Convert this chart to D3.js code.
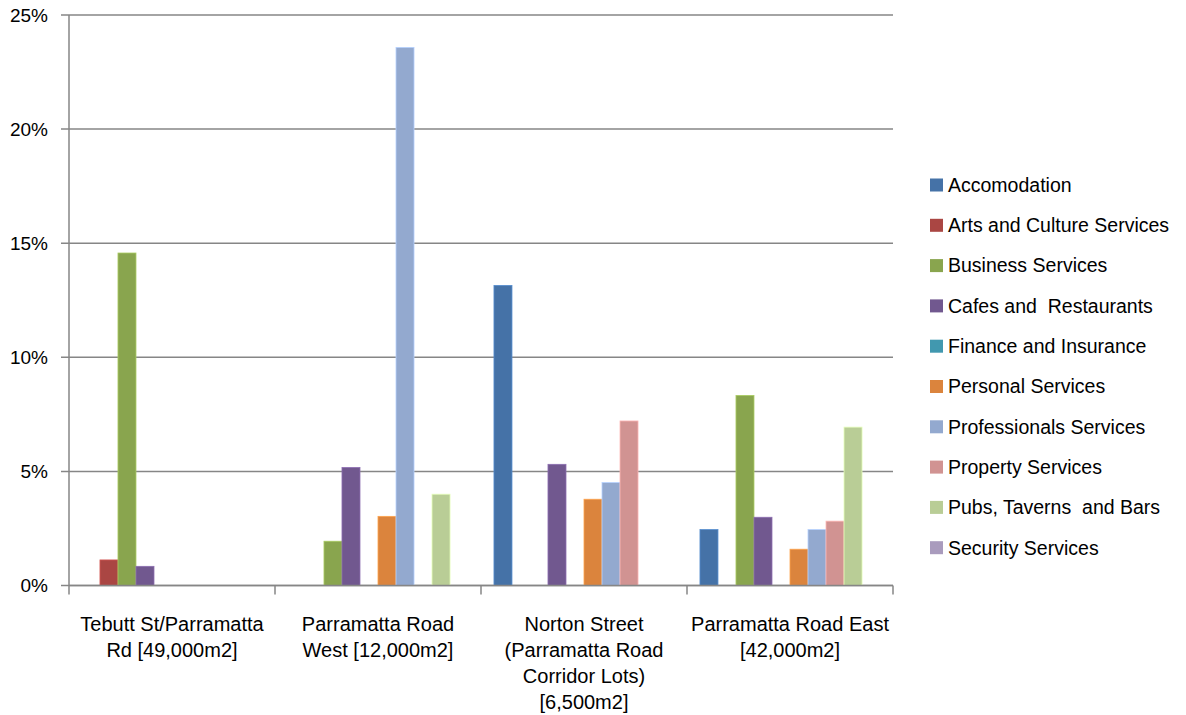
<!DOCTYPE html>
<html><head><meta charset="utf-8">
<script src="https://cdn.jsdelivr.net/npm/d3@7/dist/d3.min.js"></script>
<style>body{margin:0;background:#fff;} text{font-family:"Liberation Sans",Arial,sans-serif;fill:#000;}</style>
</head><body><svg id="c" width="1186" height="715"></svg>
<script>
const categories = ["Tebutt St/Parramatta Rd [49,000m2]","Parramatta Road West [12,000m2]","Norton Street (Parramatta Road Corridor Lots) [6,500m2]","Parramatta Road East [42,000m2]"];
const categoryLines = [["Tebutt St/Parramatta","Rd [49,000m2]"],["Parramatta Road","West [12,000m2]"],["Norton Street","(Parramatta Road","Corridor Lots)","[6,500m2]"],["Parramatta Road East","[42,000m2]"]];
const seriesNames = ["Accomodation","Arts and Culture Services","Business Services","Cafes and  Restaurants","Finance and Insurance","Personal Services","Professionals Services","Property Services","Pubs, Taverns  and Bars","Security Services"];
const seriesColors = ["#4572A7","#AA4643","#89A54E","#71588F","#4198AF","#DB843D","#93A9CF","#D19392","#B9CD96","#A99BBD"];
const accomodation = [0, 0, 13.15, 2.45];
const artsCulture = [1.12, 0, 0, 0];
const business = [14.57, 1.94, 0, 8.33];
const cafes = [0.84, 5.17, 5.31, 2.99];
const finance = [0, 0, 0, 0];
const personal = [0, 3.03, 3.78, 1.59];
const professionals = [0, 23.58, 4.51, 2.45];
const property = [0, 0, 7.21, 2.82];
const pubs = [0, 4.0, 0, 6.94];
const security = [0, 0, 0, 0];
const yTicks = [0, 5, 10, 15, 20, 25];

const seriesValues = [accomodation, artsCulture, business, cafes, finance, personal, professionals, property, pubs, security];
const svg = d3.select("#c");
const L = 69, R = 893, T = 15, B = 585.5;
const x0 = d3.scaleBand().domain(categories).range([L, R]);
const x1 = d3.scaleBand().domain(seriesNames).range([0, x0.bandwidth()]).paddingInner(0).paddingOuter(0.72);
const y = d3.scaleLinear().domain([0, 25]).range([B, T]);
const grey = "#868686";

svg.append("g").selectAll("line").data(yTicks).join("line")
  .attr("x1", L - 8).attr("x2", R).attr("y1", d => y(d)).attr("y2", d => y(d))
  .attr("stroke", grey).attr("stroke-width", 1.5);
svg.append("g").selectAll("text").data(yTicks).join("text")
  .attr("x", 48).attr("y", d => y(d)).attr("dy", "0.35em").attr("text-anchor", "end")
  .style("font-size", "19px").text(d => d + "%");

const g = svg.append("g");
categories.forEach((c, ci) => {
  seriesNames.forEach((s, si) => {
    const v = seriesValues[si][ci];
    if (v <= 0) return;
    g.append("rect")
      .attr("x", x0(c) + x1(s)).attr("width", x1.bandwidth())
      .attr("y", y(v)).attr("height", y(0) - y(v))
      .attr("fill", seriesColors[si])
      .attr("stroke", d3.color(seriesColors[si]).brighter(0.6)).attr("stroke-width", 0.8);
  });
});

svg.append("line").attr("x1", L).attr("x2", L).attr("y1", T).attr("y2", B).attr("stroke", grey).attr("stroke-width", 1.5);
svg.append("line").attr("x1", L).attr("x2", R).attr("y1", B).attr("y2", B).attr("stroke", grey).attr("stroke-width", 1.5);
const bounds = categories.map(c => x0(c)).concat([R]);
svg.append("g").selectAll("line").data(bounds).join("line")
  .attr("x1", d => d).attr("x2", d => d).attr("y1", B).attr("y2", B + 9)
  .attr("stroke", grey).attr("stroke-width", 1.5);

categories.forEach((c, ci) => {
  const t = svg.append("text").attr("text-anchor", "middle").style("font-size", "20px");
  categoryLines[ci].forEach((ln, li) => {
    t.append("tspan").attr("x", x0(c) + x0.bandwidth() / 2).attr("y", 631 + li * 26).text(ln);
  });
});

const lg = svg.append("g");
seriesNames.forEach((s, i) => {
  const yy = 185 + i * 40.3;
  lg.append("rect").attr("x", 930).attr("y", yy - 6.5).attr("width", 13).attr("height", 13).attr("fill", seriesColors[i]);
  lg.append("text").attr("x", 948).attr("y", yy).attr("dy", "0.35em").style("font-size", "19.5px").style("white-space","pre").attr("xml:space","preserve").text(s);
});
</script></body></html>
